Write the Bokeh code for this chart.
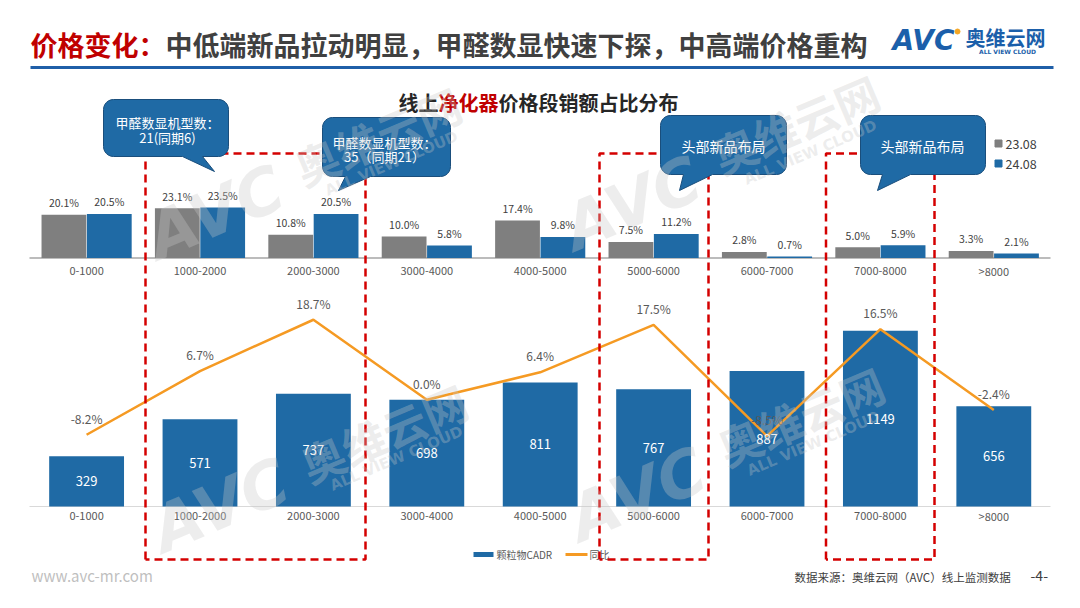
import math
from bokeh.plotting import figure
from bokeh.models import Range1d, ColumnDataSource
from bokeh.transform import dodge
from bokeh.core.properties import value
from bokeh.embed import file_html
from bokeh.resources import INLINE

# ---------------- data ----------------
categories = ["0-1000", "1000-2000", "2000-3000", "3000-4000", "4000-5000",
              "5000-6000", "6000-7000", "7000-8000", ">8000"]
share_2308 = [20.1, 23.1, 10.8, 10.0, 17.4, 7.5, 2.8, 5.0, 3.3]
share_2408 = [20.5, 23.5, 20.5, 5.8, 9.8, 11.2, 0.7, 5.9, 2.1]
cadr = [329, 571, 737, 698, 811, 767, 887, 1149, 656]
yoy = [-8.2, 6.7, 18.7, 0.0, 6.4, 17.5, -8.5, 16.5, -2.4]
series_names = ["23.08", "24.08"]
bottom_series = ["颗粒物CADR", "同比"]

title_red = "价格变化："
title_rest = "中低端新品拉动明显，甲醛数显快速下探，中高端价格重构"
sub_a, sub_b, sub_c = "线上", "净化器", "价格段销额占比分布"
callout_texts = [["甲醛数显机型数：", "21(同期6)"],
                 ["甲醛数显机型数：", "35（同期21）"],
                 ["头部新品布局"], ["头部新品布局"]]

FONT = "Noto Sans CJK SC"
GRAY = "#7f7f7f"
BLUE = "#1f6aa5"
ORANGE = "#f59a23"
RED = "#c00000"
DARK = "#404040"

W, H = 1064, 592
p = figure(width=W, height=H, x_range=Range1d(0, W), y_range=Range1d(H, 0),
           output_backend="svg", toolbar_location=None, min_border=0,
           x_axis_location=None, y_axis_location=None)
p.grid.visible = False
p.outline_line_color = None
p.background_fill_color = "white"

# category index scale: category i centred at i, 113.4 px per category, first centre at x 86.1
CAT_PX, CAT0 = 113.4, 86.1
p.extra_x_ranges = {"cat": Range1d((0 - CAT0) / CAT_PX, (W - CAT0) / CAT_PX)}


def yr(zero_px, ppu):
    return Range1d(start=(zero_px - H) / ppu, end=zero_px / ppu)


p.extra_y_ranges = {"top": yr(257.5, 2.15), "bot": yr(506.0, 0.1529), "line": yr(399.2, 4.275)}

src = ColumnDataSource(dict(
    idx=list(range(len(categories))), cat=categories, a=share_2308, b=share_2408,
    la=[f"{v:.1f}%" for v in share_2308], lb=[f"{v:.1f}%" for v in share_2408],
    cadr=cadr, mid=[v / 2 for v in cadr], lc=[str(v) for v in cadr],
    yoy=yoy, ly=[f"{v:.1f}%" for v in yoy], zero=[0] * len(categories),
))

# ---------------- top chart ----------------
p.segment(x0=29, x1=1050, y0=0, y1=0, y_range_name="top", line_color="#a6a6a6", line_width=1.5)
p.vbar(x=dodge("idx", -0.2), top="a", bottom=0, width=0.395, source=src,
       x_range_name="cat", y_range_name="top", fill_color=GRAY, line_color=None)
p.vbar(x=dodge("idx", 0.2), top="b", bottom=0, width=0.395, source=src,
       x_range_name="cat", y_range_name="top", fill_color=BLUE, line_color=None)
p.text(x=dodge("idx", -0.2), y="a", text="la", source=src, y_offset=-12,
       x_range_name="cat", y_range_name="top", text_align="center", text_baseline="middle",
       text_font=value(FONT), text_font_size="10.5px", text_color=DARK)
p.text(x=dodge("idx", 0.2), y="b", text="lb", source=src, y_offset=-12,
       x_range_name="cat", y_range_name="top", text_align="center", text_baseline="middle",
       text_font=value(FONT), text_font_size="10.5px", text_color=DARK)
p.text(x="idx", y="zero", text="cat", source=src, y_offset=12.5,
       x_range_name="cat", y_range_name="top", text_align="center", text_baseline="middle",
       text_font=value(FONT), text_font_size="11px", text_color="#595959")

# top legend
p.scatter(x=[998, 998], y=[143, 163], marker="square", size=7, color=[GRAY, BLUE])
p.text(x=[1005, 1005], y=[143, 163], text=series_names, text_baseline="middle",
       text_font=value(FONT), text_font_size="12.5px", text_color=DARK)

# ---------------- bottom chart ----------------
p.segment(x0=29, x1=1050, y0=0, y1=0, y_range_name="bot", line_color="#d9d9d9", line_width=1)
p.vbar(x="idx", top="cadr", bottom=0, width=0.66, source=src,
       x_range_name="cat", y_range_name="bot", fill_color=BLUE, line_color=None)
p.line(x="idx", y="yoy", source=src, x_range_name="cat", y_range_name="line",
       line_color=ORANGE, line_width=2.5)
p.text(x="idx", y="yoy", text="ly", source=src, y_offset=-16.5,
       x_range_name="cat", y_range_name="line", text_align="center", text_baseline="middle",
       text_font=value(FONT), text_font_size="12px", text_color="#595959")
p.text(x="idx", y="mid", text="lc", source=src,
       x_range_name="cat", y_range_name="bot", text_align="center", text_baseline="middle",
       text_font=value(FONT), text_font_size="13px", text_color="white")
p.text(x="idx", y="zero", text="cat", source=src, y_offset=9,
       x_range_name="cat", y_range_name="bot", text_align="center", text_baseline="middle",
       text_font=value(FONT), text_font_size="11px", text_color="#595959")

# bottom legend
p.quad(left=473, right=493, top=551.5, bottom=556.5, fill_color=BLUE, line_color=None)
p.segment(x0=565, x1=587, y0=554, y1=554, line_color=ORANGE, line_width=3)
p.text(x=[496, 589], y=[554, 554], text=bottom_series, text_baseline="middle",
       text_font=value(FONT), text_font_size="10px", text_color="#595959")

# ---------------- dashed highlight boxes ----------------
for (l, r) in [(145, 365), (599, 708), (825.5, 934)]:
    p.line(x=[l, l, r, r, l], y=[559, 153, 153, 559, 559], line_color="#d40000",
           line_width=2.5, line_dash="8 5")

# ---------------- callouts ----------------
def callout(x0, y0, x1, y1, r, bx0, bx1, tx, ty):
    pts = []

    def arc(cx, cy, a0, a1, n=6):
        for k in range(n + 1):
            a = math.radians(a0 + (a1 - a0) * k / n)
            pts.append((cx + r * math.cos(a), cy + r * math.sin(a)))

    arc(x0 + r, y0 + r, 180, 270)
    arc(x1 - r, y0 + r, 270, 360)
    arc(x1 - r, y1 - r, 0, 90)
    pts.extend([(bx1, y1), (tx, ty), (bx0, y1)])
    arc(x0 + r, y1 - r, 90, 180)
    xs, ys = zip(*pts)
    return list(xs), list(ys)


boxes = [
    (103, 99, 228, 156, 10, 182, 202, 214, 171),
    (322, 117, 450, 176, 10, 345, 370, 338, 190),
    (660, 115, 786, 174, 10, 683, 712, 679, 190),
    (860, 115, 985, 174, 10, 882, 910, 877, 190),
]
cx_list, cy_list = [], []
for b in boxes:
    xs, ys = callout(*b)
    cx_list.append(xs)
    cy_list.append(ys)
p.patches(xs=cx_list, ys=cy_list, fill_color=BLUE, line_color="#1a4e7c", line_width=1)

ct_x, ct_y, ct_t, ct_s = [], [], [], []
centers = [(167, [122, 137], "13px"), (384, [141.5, 156], "13px"), (723, [145.5], "14px"), (922, [145.5], "14px")]
for (cx, ys, fs), lines in zip(centers, callout_texts):
    for yy, t in zip(ys, lines):
        ct_x.append(cx); ct_y.append(yy); ct_t.append(t); ct_s.append(fs)
p.text(x=ct_x, y=ct_y, text=ct_t, text_font_size=ct_s, text_align="center",
       text_baseline="middle", text_font=value(FONT), text_color="white")

# ---------------- header ----------------
p.text(x=[30], y=[44], text=[title_red], text_font=value(FONT), text_font_size="27px",
       text_font_style="bold", text_color=RED, text_baseline="middle")
p.text(x=[165], y=[44], text=[title_rest], text_font=value(FONT), text_font_size="27px",
       text_font_style="bold", text_color=DARK, text_baseline="middle")
p.segment(x0=30, x1=1053, y0=67, y1=67, line_color="#1f5fa8", line_width=3)

p.text(x=[398], y=[101.5], text=[sub_a], text_font=value(FONT), text_font_size="20px",
       text_font_style="bold", text_color="#262626", text_baseline="middle")
p.text(x=[438], y=[101.5], text=[sub_b], text_font=value(FONT), text_font_size="20px",
       text_font_style="bold", text_color=RED, text_baseline="middle")
p.text(x=[498], y=[101.5], text=[sub_c], text_font=value(FONT), text_font_size="20px",
       text_font_style="bold", text_color="#262626", text_baseline="middle")

# logo
p.text(x=[892], y=[40], text=["AVC"], text_font=value("DejaVu Sans"), text_font_size="28px",
       text_font_style="bold italic", text_color="#1b5faa", text_baseline="middle")
p.scatter(x=[957], y=[31], size=5, color="#f5a623")
p.text(x=[965], y=[37], text=["奥维云网"], text_font=value(FONT), text_font_size="20px",
       text_font_style="bold", text_color="#1b5faa", text_baseline="middle")
p.text(x=[1007], y=[51], text=["ALL VIEW CLOUD"], text_font=value("DejaVu Sans"), text_font_size="6px",
       text_font_style="bold", text_color="#1b5faa", text_baseline="middle", text_align="center")

# footer
p.text(x=[31], y=[575], text=["www.avc-mr.com"], text_font=value(FONT), text_font_size="15px",
       text_color="#bfbfbf", text_baseline="middle")
p.text(x=[794], y=[576], text=["数据来源：奥维云网（AVC）线上监测数据"], text_font=value(FONT),
       text_font_size="11.5px", text_color=DARK, text_baseline="middle")
p.text(x=[1030], y=[575], text=["-4-"], text_font=value(FONT), text_font_size="14px",
       text_color=DARK, text_baseline="middle")

# watermarks
wm_ang = math.radians(23)
wm = [(215, 212, 377, 135, 391, 163), (632, 203, 795, 123, 810, 152),
      (220, 505, 383, 432, 396, 458), (637, 494, 800, 415, 813, 443)]
for ax, ay, bx, by, cx, cy in wm:
    p.text(x=[ax], y=[ay], text=["AVC"], angle=wm_ang, text_font=value("DejaVu Sans"),
           text_font_size="64px", text_font_style="bold italic", text_color="#c8c8c8",
           text_alpha=0.33, text_align="center", text_baseline="middle")
    p.text(x=[bx], y=[by], text=["奥维云网"], angle=wm_ang, text_font=value(FONT),
           text_font_size="44px", text_font_style="bold", text_color="#c8c8c8",
           text_alpha=0.33, text_align="center", text_baseline="middle")
    p.text(x=[cx], y=[cy], text=["ALL VIEW CLOUD"], angle=wm_ang, text_font=value("DejaVu Sans"),
           text_font_size="15px", text_font_style="bold", text_color="#c8c8c8",
           text_alpha=0.33, text_align="center", text_baseline="middle")

open("out.html", "w").write(file_html(p, INLINE))
